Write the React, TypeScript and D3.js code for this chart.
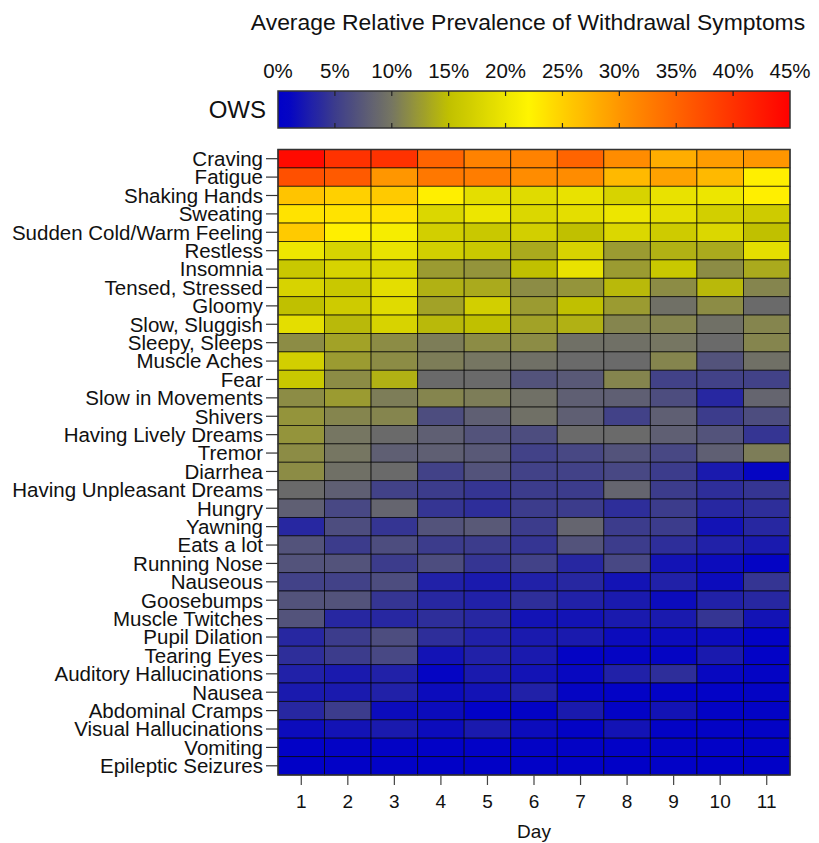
import React, {useEffect} from 'react';
import * as d3 from 'd3';

const symptoms: string[] = [
  "Craving", "Fatigue", "Shaking Hands", "Sweating", "Sudden Cold/Warm Feeling", "Restless",
  "Insomnia", "Tensed, Stressed", "Gloomy", "Slow, Sluggish", "Sleepy, Sleeps", "Muscle Aches",
  "Fear", "Slow in Movements", "Shivers", "Having Lively Dreams", "Tremor", "Diarrhea",
  "Having Unpleasant Dreams", "Hungry", "Yawning", "Eats a lot", "Running Nose", "Nauseous",
  "Goosebumps", "Muscle Twitches", "Pupil Dilation", "Tearing Eyes", "Auditory Hallucinations",
  "Nausea", "Abdominal Cramps", "Visual Hallucinations", "Vomiting", "Epileptic Seizures"
];

const days: number[] = [1, 2, 3, 4, 5, 6, 7, 8, 9, 10, 11];

// average relative prevalence (%) per symptom, day 1..11
const prevalence: number[][] = [
  [44, 40, 40, 35, 32, 32, 35, 31, 28, 29.5, 30],
  [37, 36, 30, 33, 32.5, 31, 31, 27, 29, 27, 22.5],
  [26, 25, 25.5, 22.5, 19, 18.5, 19.5, 17.5, 19.5, 20, 22.5],
  [23.5, 23.5, 23.5, 18, 20, 18, 19, 20, 19, 17, 16.5],
  [25.5, 22.5, 21, 17, 16, 17, 15, 18, 16.5, 18, 15],
  [20, 17.5, 19.5, 17, 16, 13.5, 17.5, 12.5, 14, 13.5, 19],
  [16, 17.5, 18, 12.5, 12, 15, 19.5, 12.5, 16, 11.5, 13.5],
  [17.5, 16, 19, 14, 13.5, 11.5, 12, 14.5, 11.5, 14.5, 11],
  [15, 16.5, 18.5, 13, 17, 12.5, 15, 12.5, 9.5, 11.5, 9],
  [19, 14.5, 17.5, 14.5, 15, 13, 14, 11, 11, 9.5, 11],
  [11.5, 13, 11.5, 10.5, 11.5, 11.5, 9.5, 9.5, 10, 9, 11],
  [17, 12.5, 11.5, 10.5, 10, 9.5, 9, 9, 11, 7, 9.5],
  [16, 11.5, 14, 9, 9, 7, 7.5, 11, 5.5, 5.5, 5.5],
  [11.5, 12.5, 10.5, 11, 10.5, 9.5, 8, 8, 6.5, 3.5, 8.5],
  [12, 11, 11, 6.5, 8, 9.5, 8, 5.5, 8, 5, 6.5],
  [12, 10, 9, 8, 7, 6.5, 9, 9, 8, 7, 4.5],
  [11.5, 10, 8, 8, 7.5, 5.5, 6, 7, 6, 8, 10.5],
  [11.5, 9.5, 9, 5.5, 7, 5.5, 5.5, 6, 5, 2.5, 1],
  [9, 8, 5.5, 5, 4.5, 5, 5, 8.5, 5, 4, 4.5],
  [8, 6, 8.5, 4.5, 4, 5, 5, 4, 5, 3.5, 4],
  [3.5, 6.5, 4.5, 7, 7.5, 5, 8.5, 5, 5, 2, 3.5],
  [7, 5, 6.5, 5, 5, 4.5, 7, 5, 4, 3, 2.5],
  [7, 7, 5, 6.5, 4.5, 5.5, 3.5, 6, 2, 1.5, 0.8],
  [5.5, 5.5, 6.5, 3, 2.5, 3, 3.5, 2, 3, 1.5, 4.5],
  [7, 7, 4.5, 3.5, 3, 4, 3, 2.5, 1.5, 3, 3.5],
  [7, 3.5, 3.5, 4, 3.5, 2, 2, 2.5, 2.5, 4.5, 2],
  [3.5, 5, 6.5, 4, 3, 2.5, 2.5, 1.5, 1.5, 1.5, 0.5],
  [4, 5, 6, 2, 3, 2.5, 0.8, 1, 1, 2.5, 0.5],
  [3, 2.5, 3, 1, 2.5, 2, 1.2, 3, 4, 1.2, 0.8],
  [2.5, 2.5, 3, 1.5, 2, 3, 1, 0.5, 0.5, 0.5, 0.8],
  [3.5, 5, 1.5, 1.5, 0.3, 0.6, 2.5, 0.6, 2, 0.6, 0.6],
  [1.5, 2, 2.5, 1.5, 2.5, 1.5, 0.6, 2, 0.6, 0.6, 0.6],
  [0.3, 0.6, 0.6, 0.3, 0.3, 0.6, 0.6, 0.3, 0.6, 0.3, 0.3],
  [0.2, 0.3, 0.3, 0.2, 0.2, 0.3, 0.3, 0.2, 0.3, 0.2, 0.2]
];

const colorTicks: number[] = [0, 5, 10, 15, 20, 25, 30, 35, 40, 45];
const colorStops: number[] = [0, 1, 5, 10, 15, 22, 25, 30, 45];
const colorRange: string[] = [
  "rgb(0,0,200)", "rgb(5,5,195)", "rgb(60,60,140)", "rgb(118,118,98)", "rgb(192,192,0)",
  "rgb(255,245,0)", "rgb(255,208,0)", "rgb(255,150,0)", "rgb(255,0,0)"
];

const W = 819;
const H = 843;
const FONT = "'Liberation Sans', Arial, sans-serif";

const App: React.FC = () => {
  useEffect(() => {
    const svg = d3.select('#heatmap');
    svg.selectAll("*").remove();

    const left = 278, right = 790, top = 149.5, bottom = 775;

    const x = d3.scaleBand<number>().domain(days).range([left, right]);
    const y = d3.scaleBand<string>().domain(symptoms).range([top, bottom]);
    const color = d3.scaleLinear<string>()
    .domain(colorStops)
    .range(colorRange)
    .interpolate(d3.interpolateRgb)
    .clamp(true);

    // title
    svg.append("text")
    .attr("x", 528)
    .attr("y", 30)
    .attr("text-anchor", "middle")
    .attr("font-size", 22.9)
    .attr("fill", "#111")
    .text("Average Relative Prevalence of Withdrawal Symptoms");

    // color bar
    const cb = d3.scaleLinear().domain([0, 45]).range([left, right]);
    const cbTop = 91, cbBottom = 128;
    const grad = svg.append("defs").append("linearGradient")
    .attr("id", "ows-grad")
    .attr("x1", "0%").attr("x2", "100%").attr("y1", "0%").attr("y2", "0%");
    grad.selectAll("stop")
    .data(d3.range(0, 45.01, 0.5))
    .join("stop")
    .attr("offset", d => `${d / 45 * 100}%`)
    .attr("stop-color", d => color(d));

    svg.append("rect")
    .attr("x", left).attr("y", cbTop)
    .attr("width", right - left).attr("height", cbBottom - cbTop)
    .attr("fill", "url(#ows-grad)")
    .attr("stroke", "#333").attr("stroke-width", 1.5);

    const cbTicks = svg.append("g");
    cbTicks.selectAll("line.t")
    .data(colorTicks.slice(1, -1))
    .join("line")
    .attr("x1", d => cb(d)).attr("x2", d => cb(d))
    .attr("y1", cbTop).attr("y2", cbTop + 5)
    .attr("stroke", "#222").attr("stroke-width", 1.2);
    cbTicks.selectAll("line.b")
    .data(colorTicks.slice(1, -1))
    .join("line")
    .attr("x1", d => cb(d)).attr("x2", d => cb(d))
    .attr("y1", cbBottom - 5).attr("y2", cbBottom)
    .attr("stroke", "#222").attr("stroke-width", 1.2);
    cbTicks.selectAll("text")
    .data(colorTicks)
    .join("text")
    .attr("x", d => cb(d))
    .attr("y", 78)
    .attr("text-anchor", "middle")
    .attr("font-size", 20.5)
    .attr("fill", "#111")
    .text(d => `${d}%`);

    svg.append("text")
    .attr("x", 266).attr("y", 118)
    .attr("text-anchor", "end")
    .attr("font-size", 24)
    .attr("fill", "#111")
    .text("OWS");

    // cells
    const cells = symptoms.flatMap((s, i) => days.map((d, j) => ({symptom: s, day: d, value: prevalence[i][j]})));
    svg.append("g")
    .selectAll("rect")
    .data(cells)
    .join("rect")
    .attr("x", d => x(d.day)!)
    .attr("y", d => y(d.symptom)!)
    .attr("width", x.bandwidth())
    .attr("height", y.bandwidth())
    .attr("fill", d => color(d.value))
    .attr("stroke", "#000")
    .attr("stroke-opacity", 0.75)
    .attr("stroke-width", 0.9);

    svg.append("rect")
    .attr("x", left).attr("y", top)
    .attr("width", right - left).attr("height", bottom - top)
    .attr("fill", "none")
    .attr("stroke", "#333").attr("stroke-width", 1.5);

    // y axis
    const yAxis = svg.append("g");
    yAxis.selectAll("line")
    .data(symptoms)
    .join("line")
    .attr("x1", left - 12).attr("x2", left)
    .attr("y1", d => y(d)! + y.bandwidth() / 2)
    .attr("y2", d => y(d)! + y.bandwidth() / 2)
    .attr("stroke", "#333").attr("stroke-width", 1.2);
    yAxis.selectAll("text")
    .data(symptoms)
    .join("text")
    .attr("x", left - 15)
    .attr("y", d => y(d)! + y.bandwidth() / 2)
    .attr("dy", "0.36em")
    .attr("text-anchor", "end")
    .attr("font-size", 20.5)
    .attr("fill", "#111")
    .text(d => d);

    // x axis
    const xAxis = svg.append("g");
    xAxis.selectAll("line")
    .data(days)
    .join("line")
    .attr("x1", d => x(d)! + x.bandwidth() / 2)
    .attr("x2", d => x(d)! + x.bandwidth() / 2)
    .attr("y1", bottom).attr("y2", bottom + 10)
    .attr("stroke", "#444").attr("stroke-width", 1.2);
    xAxis.selectAll("text")
    .data(days)
    .join("text")
    .attr("x", d => x(d)! + x.bandwidth() / 2)
    .attr("y", 808)
    .attr("text-anchor", "middle")
    .attr("font-size", 19)
    .attr("fill", "#111")
    .text(d => d);

    svg.append("text")
    .attr("x", (left + right) / 2)
    .attr("y", 838)
    .attr("text-anchor", "middle")
    .attr("font-size", 19)
    .attr("fill", "#111")
    .text("Day");
  }, []);

  return (
    <svg id="heatmap" width={W} height={H}
         style={{position: 'absolute', left: 0, top: 0, background: '#fff', fontFamily: FONT}}/>
  );
};

export default App;
